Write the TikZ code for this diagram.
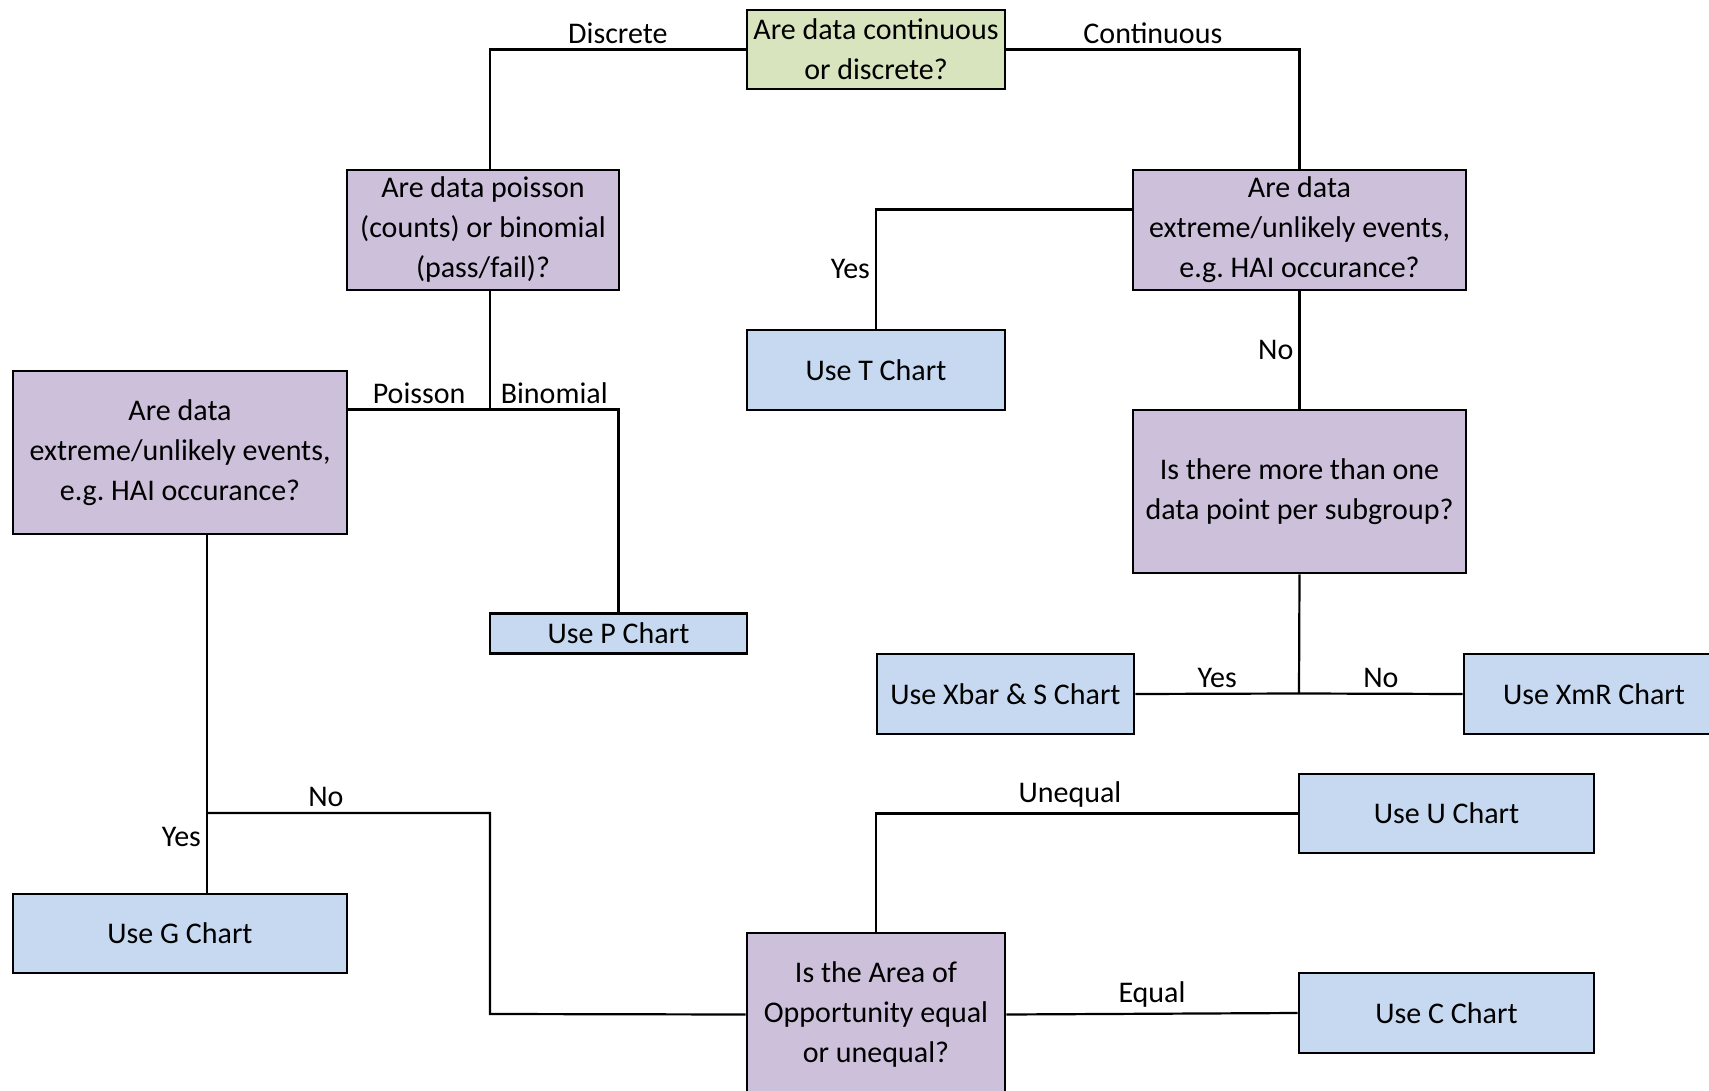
\documentclass[tikz,border=0pt]{standalone}
\usepackage{fontspec}
\setmainfont{Carlito}
\frenchspacing

\definecolor{askgreen}{HTML}{D7E4BD}
\definecolor{askpurple}{HTML}{CCC0DA}
\definecolor{useblue}{HTML}{C6D9F1}

\begin{document}
\begin{tikzpicture}[x=0.5pt,y=-0.5pt,
    font=\fontsize{15}{20}\selectfont,
    box/.style={rectangle,draw,line width=1.3pt,align=center,inner sep=1pt},
    lbl/.style={inner sep=2.5pt}]

      \useasboundingbox (0,0) rectangle (1709,1091);
      \clip (0,0) rectangle (1709,1091);

      \begin{scope}[every node/.style={box,fill=askgreen}]
        \node[minimum width=129pt,minimum height=39.5pt] (q1) at (876,49.5) {Are data continuous\\or discrete?};
      \end{scope}

      \begin{scope}[every node/.style={box,fill=askpurple}]
        \node[minimum width=136pt,minimum height=60pt]   (q2) at (483,230)    {Are data poisson\\(counts) or binomial\\(pass/fail)?};
        \node[minimum width=166.5pt,minimum height=60pt] (q3) at (1299.5,230) {Are data\\extreme/unlikely events,\\e.g. HAI occurance?};
        \node[minimum width=166.5pt,minimum height=81.5pt] (q4) at (1299.5,491.5) {Is there more than one\\data point per subgroup?};
        \node[minimum width=167pt,minimum height=81.5pt] (q5) at (180,452.5)  {Are data\\extreme/unlikely events,\\e.g. HAI occurance?};
        \node[minimum width=129pt,minimum height=81.5pt] (q6) at (876,1014.5) {Is the Area of\\Opportunity equal\\or unequal?};
      \end{scope}

      \begin{scope}[every node/.style={box,fill=useblue}]
        \node[minimum width=129pt,minimum height=40pt]   (t)   at (876,370)     {Use T Chart};
        \node[minimum width=128.5pt,minimum height=20pt] (p)   at (618.5,633.5) {Use P Chart};
        \node[minimum width=128.5pt,minimum height=40pt] (xs)  at (1005.5,694)  {Use Xbar \& S Chart};
        \node[minimum width=130pt,minimum height=40pt]   (xmr) at (1594,694)    {Use XmR Chart};
        \node[minimum width=167pt,minimum height=39.5pt] (g)   at (180,933.5)   {Use G Chart};
        \node[minimum width=147.5pt,minimum height=39.5pt] (u) at (1446.5,813.5) {Use U Chart};
        \node[minimum width=147.5pt,minimum height=40pt] (c)   at (1446.5,1013) {Use C Chart};
      \end{scope}

      \coordinate (j1) at (1299,693.5);
      \coordinate (j2) at (490,409.5);
      \coordinate (j3) at (207,813);
      \coordinate (j4) at (490,1014);

      \begin{scope}[line width=1.1pt]
        \draw (q1.west) -| node[pos=0.25,above,lbl] {Discrete} (q2.north -| j2);
        \draw (q1.east) -| node[pos=0.25,above,lbl] {Continuous} (q3.north);

        \draw ([yshift=10.25pt]q3.west) -| node[pos=0.75,left,lbl] {Yes} (t.north);
        \draw (q3.south) -- node[left,lbl] {No} (q4.north);
        \draw (q4.south) -- (j1);
        \draw (j1) -- node[above,lbl] {Yes} (xs.east);
        \draw (j1) -- node[above,lbl] {No} (xmr.west);

        \draw (q2.south -| j2) -- (j2);
        \draw (j2) -- node[above,lbl] {Poisson} (j2 -| q5.east);
        \draw (j2) -| node[pos=0.25,above,lbl] {Binomial} (p.north);

        \draw (q5.south -| j3) -- (j3) -- node[pos=0.3,left,lbl] {Yes} (g.north -| j3);
        \draw (j3) -| node[pos=0.21,above,lbl] {No} (j4) -- (q6.west);

        \draw (q6.north) |- node[pos=0.73,above,lbl] {Unequal} (u.west);
        \draw (q6.east) -- node[above,lbl] {Equal} (c.west);
      \end{scope}

    \end{tikzpicture}
\end{document}
